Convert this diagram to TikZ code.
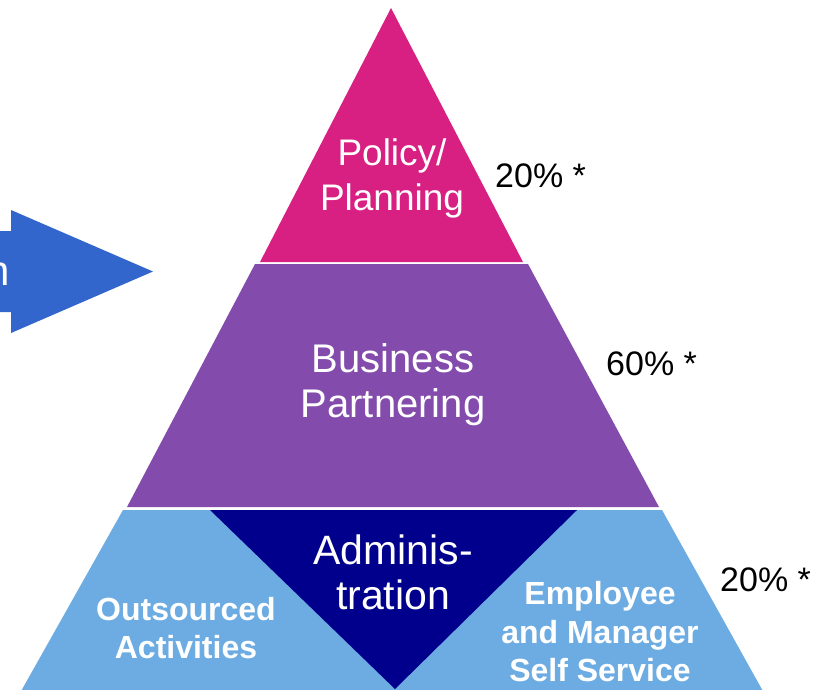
\documentclass[tikz,border=0pt]{standalone}
\usepackage{fontspec}
\setmainfont{Liberation Sans}
\definecolor{policypink}{RGB}{216,31,130}
\definecolor{partnerpurple}{RGB}{131,75,171}
\definecolor{adminblue}{RGB}{108,172,226}
\definecolor{adminnavy}{RGB}{0,0,140}
\definecolor{arrowblue}{RGB}{51,102,204}

\begin{document}
\begin{tikzpicture}[x=1pt,y=-1pt,
    layertext/.style={white,align=center,inner sep=0pt},
    pct/.style={black,anchor=base west,inner sep=0pt,font=\fontsize{34}{38}\selectfont}]
  \useasboundingbox (0,0) rectangle (822,689);
  % arrow coming in from the left
  \fill[arrowblue] (-5,231) -- (11,231) -- (11,210) -- (153,271.5) -- (11,333) -- (11,312) -- (-5,312) -- cycle;
  \node[white,anchor=base east,inner sep=0pt,font=\fontsize{42}{46}\selectfont] (arrowtext) at (10,285) {n};
  % Policy/Planning
  \fill[policypink] (391,8) -- (523,262) -- (260,262) -- cycle;
  \node[layertext,font=\fontsize{37}{45}\selectfont] (policy) at (392,178) {Policy/\\Planning};
  \node[pct] (pctpolicy) at (495,187) {20\% *};
  % Business Partnering
  \fill[partnerpurple] (255,264) -- (528,264) -- (659,507) -- (127,507) -- cycle;
  \node[layertext,font=\fontsize{40}{45}\selectfont] (business) at (393,385) {Business\\Partnering};
  \node[pct] (pctbusiness) at (606,375) {60\% *};
  % Administration
  \fill[adminblue] (123,510) -- (662,510) -- (764,693) -- (20,693) -- cycle;
  \fill[adminnavy] (210,510) -- (577,510) -- (395,689) -- cycle;
  \node[layertext,font=\fontsize{41}{45}\selectfont] (admin) at (393,572) {Adminis-\\tration};
  \node[layertext,font=\bfseries\fontsize{32}{38.5}\selectfont] (outsourced) at (186,628) {Outsourced\\Activities};
  \node[layertext,font=\bfseries\fontsize{32}{38.5}\selectfont] (selfservice) at (600,632) {Employee\\and Manager\\Self Service};
  \node[pct] (pctadmin) at (720,591) {20\% *};
\end{tikzpicture}
\end{document}
